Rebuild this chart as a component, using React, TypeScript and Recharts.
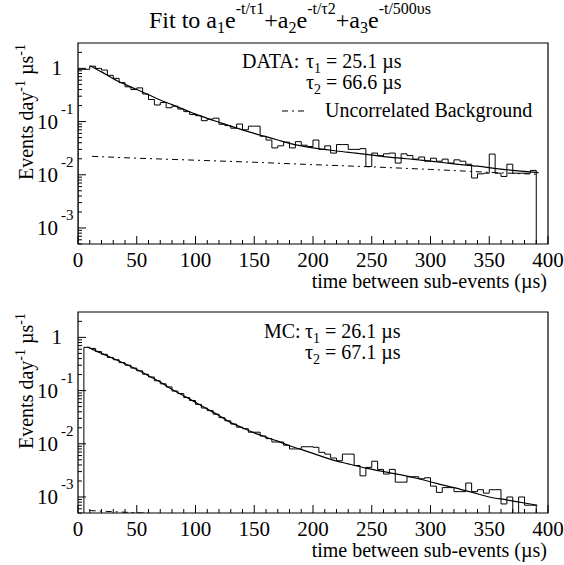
import React from 'react';
import { LineChart, Line, XAxis, YAxis, ReferenceArea } from 'recharts';

const FONT = '"Liberation Serif", "Times New Roman", Times, serif';
const BIN = 5;
const FLOOR = 1e-6; // empty bins sit below the axis and get clipped

// DATA histogram, 5 us bins starting at 0 us
const dataStart = 0;
const dataCounts = [
  0.96, 0.96, 1.1, 1.0, 0.93, 0.74, 0.65, 0.54, 0.45, 0.4,
  0.43, 0.33, 0.26, 0.205, 0.228, 0.182, 0.195, 0.172, 0.154, 0.136,
  0.129, 0.104, 0.111, 0.116, 0.089, 0.084, 0.075, 0.09, 0.07, 0.082,
  0.082, 0.053, 0.045, 0.032, 0.035, 0.041, 0.032, 0.042, 0.036, 0.034,
  0.045, 0.03, 0.035, 0.0256, 0.037, 0.037, 0.03, 0.03, 0.031, 0.0143,
  0.0256, 0.0228, 0.0248, 0.0256, 0.0166, 0.0248, 0.023, 0.0197, 0.0216, 0.018,
  0.0205, 0.018, 0.0197, 0.0166, 0.0191, 0.018, 0.0158, 0.0087, 0.0104, 0.0107,
  0.0245, 0.0107, 0.0093, 0.0158, 0.0107, 0.0107, 0.0107, 0.0121,
];
const dataFitT = [10, 20, 30, 40, 50, 60, 70, 80, 90, 100, 110, 120, 130, 140, 150, 160, 170, 180, 190, 200, 220, 240, 260, 280, 300, 320, 340, 360, 380, 392];
const dataFitV = [1.12, 0.86, 0.64, 0.5, 0.4, 0.32, 0.255, 0.208, 0.17, 0.138, 0.115, 0.097, 0.082, 0.07, 0.06, 0.052, 0.045, 0.039, 0.035, 0.032, 0.028, 0.025, 0.022, 0.02, 0.018, 0.0161, 0.0145, 0.0128, 0.0116, 0.011];
const dataBkgT = [12, 50, 100, 150, 200, 250, 300, 330, 350, 392];
const dataBkgV = [0.0222, 0.0205, 0.0188, 0.0172, 0.0155, 0.0141, 0.0126, 0.0117, 0.0111, 0.0102];

// MC histogram, 5 us bins starting at 5 us
const mcStart = 5;
const mcCounts = [
  0.65, 0.62, 0.54, 0.48, 0.42, 0.38, 0.335, 0.3, 0.265, 0.235,
  0.203, 0.18, 0.153, 0.134, 0.117, 0.098, 0.088, 0.074, 0.065, 0.055,
  0.047, 0.042, 0.036, 0.031, 0.027, 0.0235, 0.0205, 0.0192, 0.0165, 0.0165,
  0.014, 0.0125, 0.0108, 0.0108, 0.0094, 0.008, 0.008, 0.0088, 0.0088, 0.0086,
  0.0069, 0.0064, 0.0054, 0.0048, 0.0064, 0.0064, 0.0039, 0.0025, 0.0036, 0.0047,
  0.0033, 0.0027, 0.0033, 0.0019, 0.0019, 0.0024, 0.0024, 0.0022, 0.0023, 0.0016,
  0.00122, 0.0015, 0.0015, 0.00126, 0.00126, 0.00183, 0.00126, 0.00137, 0.00118, 0.00137,
  0.00137, 0.00074, 0.001, 0, 0.001, 0.0007, 0.0007,
];
const mcFitT = [8, 10, 20, 30, 40, 50, 60, 70, 80, 90, 100, 110, 120, 130, 140, 150, 160, 170, 180, 190, 200, 215, 230, 245, 260, 275, 290, 305, 320, 335, 350, 365, 380, 391];
const mcFitV = [0.66, 0.63, 0.5, 0.4, 0.32, 0.25, 0.19, 0.145, 0.105, 0.08, 0.06, 0.045, 0.034, 0.025, 0.02, 0.016, 0.0133, 0.0112, 0.0092, 0.0078, 0.0066, 0.0051, 0.0042, 0.0035, 0.003, 0.0026, 0.0022, 0.0018, 0.0015, 0.00123, 0.001, 0.00088, 0.00077, 0.0007];
const mcBkgT = [10, 50, 100, 200, 300, 390];
const mcBkgV = [0.000555, 0.000505, 0.000455, 0.000375, 0.00031, 0.00026];

const xTicks = [0, 10, 20, 30, 40, 50, 60, 70, 80, 90, 100, 110, 120, 130, 140, 150, 160, 170, 180, 190, 200, 210, 220, 230, 240, 250, 260, 270, 280, 290, 300, 310, 320, 330, 340, 350, 360, 370, 380, 390, 400];
const yTicks = [
  0.0005, 0.0006, 0.0007, 0.0008, 0.0009,
  0.001, 0.002, 0.003, 0.004, 0.005, 0.006, 0.007, 0.008, 0.009,
  0.01, 0.02, 0.03, 0.04, 0.05, 0.06, 0.07, 0.08, 0.09,
  0.1, 0.2, 0.3, 0.4, 0.5, 0.6, 0.7, 0.8, 0.9,
  1, 2,
];

const toSteps = (start: number, counts: number[]) => {
  const pts = [{ t: start, v: FLOOR }];
  counts.forEach((c, i) => pts.push({ t: start + i * BIN, v: c > 0 ? c : FLOOR }));
  const end = start + counts.length * BIN;
  pts.push({ t: end, v: counts[counts.length - 1] });
  pts.push({ t: end, v: FLOOR });
  return pts;
};
const toPts = (ts: number[], vs: number[]) => ts.map((t, i) => ({ t, v: vs[i] }));

const XTick = ({ x, y, payload }: any) => {
  const major = payload.value % 50 === 0;
  return (
    <g>
      <line x1={x} y1={y} x2={x} y2={y - (major ? 8 : 4)} stroke="#000" strokeWidth={1} />
      {major && (
        <text x={x} y={y + 22.5} textAnchor="middle" fontSize={21} fontFamily={FONT} fill="#000">
          {payload.value}
        </text>
      )}
    </g>
  );
};

const YTick = ({ x, y, payload }: any) => {
  const lg = Math.log10(payload.value);
  const e = Math.round(lg);
  const major = Math.abs(lg - e) < 1e-6;
  return (
    <g>
      <line x1={x} y1={y} x2={x + (major ? 8 : 4)} y2={y} stroke="#000" strokeWidth={1} />
      {major && e === 0 && (
        <text x={x - 16} y={y + 7} textAnchor="end" fontSize={21} fontFamily={FONT} fill="#000">1</text>
      )}
      {major && e !== 0 && (
        <g>
          <text x={x - 20} y={y + 7} textAnchor="end" fontSize={21} fontFamily={FONT} fill="#000">10</text>
          <text x={x - 17} y={y - 8} fontSize={15} fontFamily={FONT} fill="#000">{e}</text>
        </g>
      )}
    </g>
  );
};

const Panel = ({ hist, fit, bkg, height, top, xh }: any) => (
  <LineChart width={564} height={height} margin={{ top, right: 16, left: 0, bottom: 0 }}>
    <XAxis
      type="number"
      dataKey="t"
      domain={[0, 400]}
      ticks={xTicks}
      interval={0}
      allowDataOverflow
      axisLine={false}
      tickLine={false}
      tickSize={0}
      tickMargin={0}
      height={xh}
      tick={(p: any) => <XTick {...p} />}
    />
    <YAxis
      type="number"
      scale="log"
      domain={[0.0005, 3]}
      ticks={yTicks}
      interval={0}
      allowDataOverflow
      axisLine={false}
      tickLine={false}
      tickSize={0}
      tickMargin={0}
      width={78}
      tick={(p: any) => <YTick {...p} />}
    />
    <ReferenceArea x1={0} x2={400} y1={0.0005} y2={3} fill="none" stroke="#000" strokeWidth={1.2} />
    <Line data={bkg} dataKey="v" type="linear" stroke="#000" strokeWidth={1} strokeDasharray="6 4 2 4" dot={false} isAnimationActive={false} />
    <Line data={hist} dataKey="v" type="stepAfter" stroke="#000" strokeWidth={1} dot={false} isAnimationActive={false} />
    <Line data={fit} dataKey="v" type="monotone" stroke="#000" strokeWidth={1.2} dot={false} isAnimationActive={false} />
  </LineChart>
);

const Tau = ({ n, val, x, y }: any) => (
  <text x={x} y={y} fontSize={20} fontFamily={FONT} fill="#000">
    τ<tspan fontSize={14} dy={5}>{n}</tspan>
    <tspan dy={-5}> = {val} µs</tspan>
  </text>
);

const YTitle = ({ x, y }: any) => (
  <text transform={`translate(${x},${y}) rotate(-90)`} textAnchor="end" fontSize={20} fontFamily={FONT} fill="#000">
    Events day<tspan fontSize={14} dy={-8}>-1</tspan>
    <tspan dy={8}> µs</tspan>
    <tspan fontSize={14} dy={-8}>-1</tspan>
  </text>
);

export default function App() {
  return (
    <div style={{ position: 'absolute', left: 0, top: 0, width: 564, height: 565, background: '#fff' }}>
      <div style={{ position: 'absolute', left: 0, top: 0 }}>
        <Panel
          hist={toSteps(dataStart, dataCounts)}
          fit={toPts(dataFitT, dataFitV)}
          bkg={toPts(dataBkgT, dataBkgV)}
          height={282}
          top={43}
          xh={38}
        />
      </div>
      <div style={{ position: 'absolute', left: 0, top: 282 }}>
        <Panel
          hist={toSteps(mcStart, mcCounts)}
          fit={toPts(mcFitT, mcFitV)}
          bkg={toPts(mcBkgT, mcBkgV)}
          height={283}
          top={30}
          xh={52}
        />
      </div>
      <svg width={564} height={565} style={{ position: 'absolute', left: 0, top: 0, pointerEvents: 'none' }}>
        <text x={290} y={28} textAnchor="middle" fontSize={24} fontFamily={FONT} fill="#000">
          Fit to a<tspan fontSize={16} dy={5}>1</tspan>
          <tspan dy={-5}>e</tspan>
          <tspan fontSize={16} dy={-14}>-t/τ1</tspan>
          <tspan dy={14}>+a</tspan>
          <tspan fontSize={16} dy={5}>2</tspan>
          <tspan dy={-5}>e</tspan>
          <tspan fontSize={16} dy={-14}>-t/τ2</tspan>
          <tspan dy={14}>+a</tspan>
          <tspan fontSize={16} dy={5}>3</tspan>
          <tspan dy={-5}>e</tspan>
          <tspan fontSize={16} dy={-14}>-t/500υs</tspan>
        </text>

        <text x={242} y={68} fontSize={20} fontFamily={FONT} fill="#000">DATA:</text>
        <Tau n="1" val="25.1" x={306} y={68} />
        <Tau n="2" val="66.6" x={306} y={89} />
        <line x1={282} y1={111} x2={308} y2={111} stroke="#000" strokeWidth={1} strokeDasharray="6 4 2 4" />
        <text x={325} y={117} fontSize={20} fontFamily={FONT} fill="#000">Uncorrelated Background</text>

        <text x={264} y={338} fontSize={20} fontFamily={FONT} fill="#000">MC:</text>
        <Tau n="1" val="26.1" x={305} y={338} />
        <Tau n="2" val="67.1" x={305} y={359} />

        <YTitle x={33} y={44} />
        <YTitle x={33} y={313} />
        <text x={547} y={288} textAnchor="end" fontSize={20} fontFamily={FONT} fill="#000">time between sub-events (µs)</text>
        <text x={547} y={557} textAnchor="end" fontSize={20} fontFamily={FONT} fill="#000">time between sub-events (µs)</text>
      </svg>
    </div>
  );
}
